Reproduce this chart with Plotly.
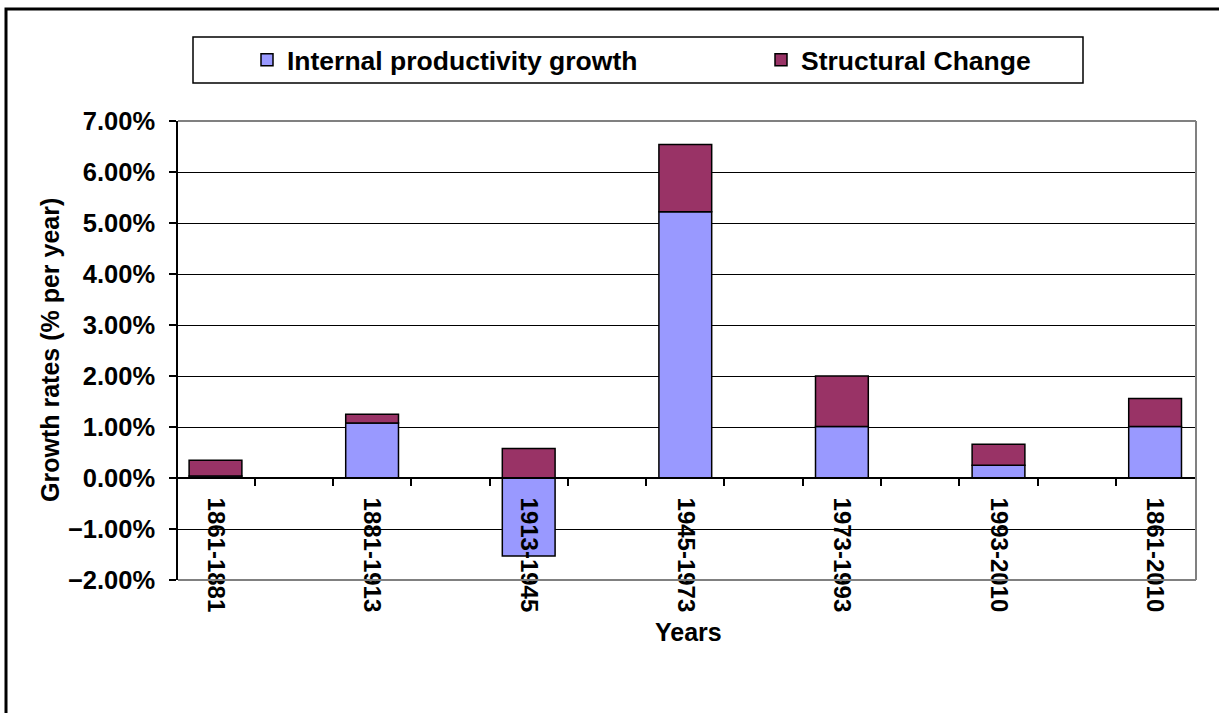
import plotly.graph_objects as go

categories = ["1861-1881", "1881-1913", "1913-1945", "1945-1973", "1973-1993", "1993-2010", "1861-2010"]
internal_growth = [0.0004, 0.0108, -0.0153, 0.0522, 0.0101, 0.0025, 0.0101]
structural_change = [0.0031, 0.0017, 0.0058, 0.0132, 0.0099, 0.0041, 0.0055]
y_ticks = [-0.02, -0.01, 0.0, 0.01, 0.02, 0.03, 0.04, 0.05, 0.06, 0.07]
x_minor_ticks = [0.25 + 0.5 * k for k in range(12)]

W, H = 1219, 713
L, R, T, B = 178, 1196, 121, 580  # plot area in px
pw, ph = R - L, B - T

def px_x(p):
    return (p - L) / pw

def px_y(p):
    return (B - p) / ph

FONT = "Liberation Sans, Arial, sans-serif"

# category band geometry (first centre at 215.5 px, spacing 156.6 px)
spacing = 156.6
x_lo = -(215.5 - L) / spacing
x_range = [x_lo, x_lo + pw / spacing]

fig = go.Figure()
fig.add_trace(go.Bar(
    x=categories, y=internal_growth, name="Internal productivity growth",
    marker=dict(color="#9999FF", line=dict(color="black", width=1.5)),
    legend="legend",
))
fig.add_trace(go.Bar(
    x=categories, y=structural_change, name="Structural Change",
    marker=dict(color="#993366", line=dict(color="black", width=1.5)),
    legend="legend2",
))
# invisible trace to activate the tick-mark axis
fig.add_trace(go.Scatter(x=[x_range[0]], y=[0], xaxis="x2", mode="markers",
                         marker=dict(opacity=0), showlegend=False, hoverinfo="skip"))

ymin, ymax = y_ticks[0], y_ticks[-1]
zero_pos = (0 - ymin) / (ymax - ymin)

legend_font = dict(family=FONT, size=26.5, color="black", weight="bold")

fig.update_layout(
    width=W, height=H,
    margin=dict(l=L, r=W - R, t=T, b=H - B, autoexpand=False),
    paper_bgcolor="white", plot_bgcolor="white",
    barmode="relative", bargap=0.663,
    font=dict(family=FONT, color="black"),
    showlegend=True,
    legend=dict(
        orientation="h", x=px_x(247), xanchor="left", y=px_y(60), yanchor="middle",
        font=legend_font, bgcolor="rgba(0,0,0,0)", borderwidth=0,
    ),
    legend2=dict(
        orientation="h", x=px_x(761), xanchor="left", y=px_y(60), yanchor="middle",
        font=legend_font, bgcolor="rgba(0,0,0,0)", borderwidth=0,
    ),
    xaxis=dict(
        type="category", anchor="free", position=zero_pos,
        showline=True, linecolor="black", linewidth=1.5,
        ticks="", tickangle=90, ticklabelstandoff=14,
        tickfont=dict(family=FONT, size=24, color="black", weight="bold"),
        showgrid=False, zeroline=False, range=x_range,
    ),
    xaxis2=dict(
        overlaying="x", anchor="free", position=zero_pos, range=x_range,
        tickvals=x_minor_ticks, showticklabels=False,
        ticks="outside", ticklen=7, tickwidth=1.5, tickcolor="black",
        showline=False, showgrid=False, zeroline=False,
    ),
    yaxis=dict(
        range=[ymin, ymax], tickvals=y_ticks, tickformat=".2%",
        showline=True, linecolor="black", linewidth=1.5,
        ticks="outside", ticklen=7, tickwidth=1.5, tickcolor="black",
        ticklabelstandoff=9,
        showgrid=True, gridcolor="black", gridwidth=1.4,
        zeroline=True, zerolinecolor="black", zerolinewidth=1.5,
        tickfont=dict(family=FONT, size=25.5, color="black", weight="bold"),
    ),
    annotations=[
        dict(text="Years", xref="paper", yref="paper", x=px_x(688), y=px_y(632),
             xanchor="center", yanchor="middle", showarrow=False,
             font=dict(family=FONT, size=25, color="black", weight="bold")),
        dict(text="Growth rates (% per year)", xref="paper", yref="paper", x=px_x(50), y=px_y(350),
             xanchor="center", yanchor="middle", showarrow=False, textangle=-90,
             font=dict(family=FONT, size=25, color="black", weight="bold")),
    ],
    shapes=[
        dict(type="line", xref="paper", yref="paper", x0=0, x1=1, y0=1, y1=1,
             line=dict(color="#808080", width=2)),
        dict(type="line", xref="paper", yref="paper", x0=1, x1=1, y0=0, y1=1,
             line=dict(color="#808080", width=2)),
        dict(type="line", xref="paper", yref="paper", x0=0, x1=1, y0=0, y1=0,
             line=dict(color="#808080", width=2)),
        dict(type="rect", xref="paper", yref="paper", x0=px_x(193), x1=px_x(1083),
             y0=px_y(83), y1=px_y(37), line=dict(color="black", width=1.5), layer="below"),
        dict(type="rect", xref="paper", yref="paper", x0=px_x(6), x1=px_x(1230),
             y0=px_y(725), y1=px_y(9), line=dict(color="black", width=3)),
    ],
)

fig.write_html("out.html", config={"displayModeBar": False},
               post_script="document.body.style.margin='0px';")
